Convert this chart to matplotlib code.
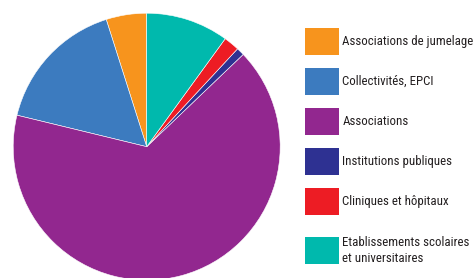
import matplotlib
matplotlib.use("Agg")
import matplotlib.pyplot as plt
from matplotlib.patches import Rectangle

categories = ["Associations de jumelage", "Collectivités, EPCI", "Associations",
              "Institutions publiques", "Cliniques et hôpitaux",
              "Etablissements scolaires\net universitaires"]
values = [4.9, 16.3, 65.9, 0.95, 1.9, 10.0]
colors = ["#F7941D", "#3C7BBF", "#92278F", "#2E3192", "#ED1C24", "#00B9AD"]

fam = ["Roboto Condensed", "Archivo Narrow", "DejaVu Sans"]

W, H = 476, 278
fig = plt.figure(figsize=(W / 100, H / 100), dpi=100)
cx, cy, r = 146.7, 146.7, 133.5
ax = fig.add_axes([(cx - r) / W, (H - cy - r) / H, 2 * r / W, 2 * r / H])
ax.pie(values, colors=colors, startangle=90, counterclock=True, radius=1,
       wedgeprops=dict(edgecolor="white", linewidth=0.4))
ax.set_xlim(-1, 1)
ax.set_ylim(-1, 1)
ax.set_aspect("equal")
ax.axis("off")

tops = [28, 68, 108, 148, 188, 237]
for lab, col, t in zip(categories, colors, tops):
    fig.patches.append(Rectangle((305 / W, (H - t - 27) / H), 34 / W, 27 / H,
                                 transform=fig.transFigure, facecolor=col,
                                 edgecolor="none"))
    fig.text(342.5 / W, (H - t - 13.5) / H, lab, fontsize=9.3, family=fam,
             color="#231F20", va="center", ha="left", linespacing=1.3)

fig.savefig("out.png", dpi=100)
